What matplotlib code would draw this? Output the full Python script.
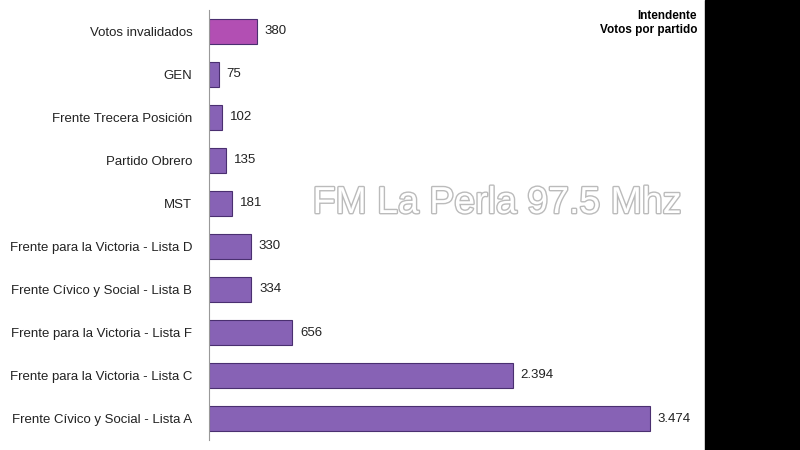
import matplotlib.pyplot as plt
import matplotlib.patheffects as pe
from matplotlib.patches import Rectangle

plt.rcParams["font.family"] = ["Liberation Sans", "DejaVu Sans"]

partidos = ["Frente Cívico y Social - Lista A", "Frente para la Victoria - Lista C",
            "Frente para la Victoria - Lista F", "Frente Cívico y Social - Lista B",
            "Frente para la Victoria - Lista D", "MST", "Partido Obrero",
            "Frente Trecera Posición", "GEN", "Votos invalidados"]
votos = [3474, 2394, 656, 334, 330, 181, 135, 102, 75, 380]
etiquetas = ["3.474", "2.394", "656", "334", "330", "181", "135", "102", "75", "380"]
colores = ["#8762b5"] * 9 + ["#b24fb3"]

fig = plt.figure(figsize=(8, 4.5), dpi=100)
fig.patches.append(Rectangle((705 / 800, 0), 95 / 800, 1, transform=fig.transFigure,
                             color="black", zorder=0))
ax = fig.add_axes([209 / 800, 10 / 450, 496 / 800, 430 / 450])
ax.set_facecolor("none")

y = range(len(partidos))
ax.barh(y, votos, height=0.58, color=colores, edgecolor="#4a2f70", linewidth=0.8)
for i, (v, t) in enumerate(zip(votos, etiquetas)):
    ax.text(v + 60, i, t, va="center", ha="left", fontsize=9.5, color="#222222")

ax.set_yticks(list(y))
ax.set_yticklabels(partidos, fontsize=9.5, color="#222222")
ax.tick_params(axis="y", length=0, pad=12)
ax.set_xticks([])
ax.set_xlim(0, 3907)
ax.set_ylim(-0.5, 9.5)
for s in ["top", "right", "bottom"]:
    ax.spines[s].set_visible(False)
ax.spines["left"].set_color("#999999")

fig.text(697 / 800, 1 - 16 / 450, "Intendente", ha="right", va="center",
         fontsize=8.5, fontweight="bold")
fig.text(697 / 800, 1 - 30 / 450, "Votos por partido", ha="right", va="center",
         fontsize=8.5, fontweight="bold")
fig.text(497 / 800, 1 - 203 / 450, "FM La Perla 97.5 Mhz", ha="center", va="center",
         fontsize=27, color="white",
         path_effects=[pe.withStroke(linewidth=2, foreground="#bbbbbb")])

fig.savefig("out.png", dpi=100)
